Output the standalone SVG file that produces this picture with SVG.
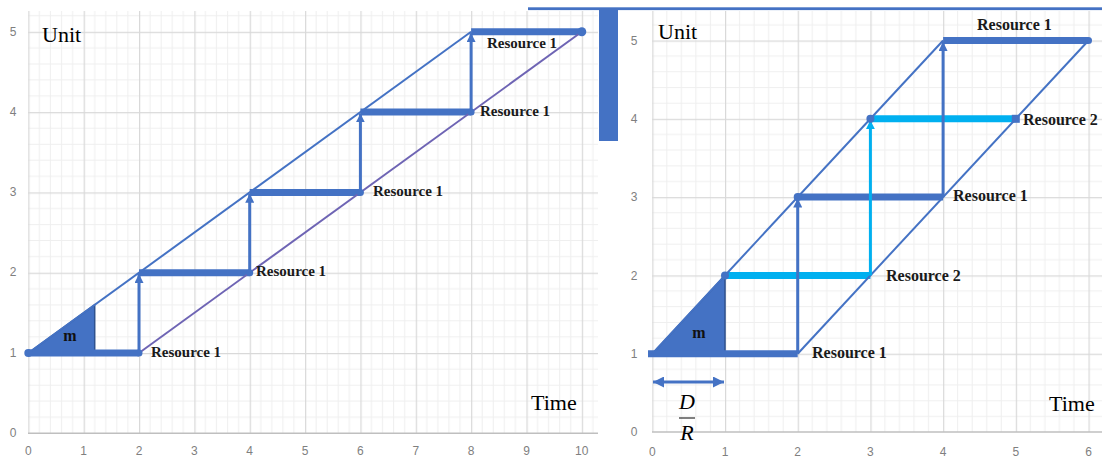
<svg xmlns="http://www.w3.org/2000/svg" width="1102" height="459" viewBox="0 0 1102 459">
<defs>
<style>
.tick{font-family:"Liberation Sans",Arial,sans-serif;font-size:12px;fill:#7f7f7f;text-anchor:middle}
.ax{font-family:"Liberation Serif","Times New Roman",serif;font-size:22px;fill:#000}
.res{font-family:"Liberation Serif","Times New Roman",serif;font-weight:bold;font-size:15px;fill:#1a1a1a}
.resR{font-family:"Liberation Serif","Times New Roman",serif;font-weight:bold;font-size:16px;fill:#1a1a1a}
.bar{stroke:#4472C4;stroke-width:7;fill:none}
.barL{stroke:#00B0F0;stroke-width:7;fill:none}
.diag{stroke:#4472C4;stroke-width:2;fill:none}
.arr{stroke:#4472C4;stroke-width:3;fill:none;marker-end:url(#ah)}
.arrL{stroke:#00B0F0;stroke-width:3;fill:none;marker-end:url(#ahL)}
.dot{fill:#4472C4}
.dotL{fill:#00B0F0}
.tri{fill:#4472C4;stroke:#2F528F;stroke-width:1.5}
.m{font-family:"Liberation Serif","Times New Roman",serif;font-weight:bold;font-size:16px;fill:#111;text-anchor:middle}
</style>
<pattern id="gridL" patternUnits="userSpaceOnUse" x="28.3" y="433.3" width="55.35" height="80.3">
<rect width="55.35" height="80.3" fill="#fff"/>
<g stroke="#efefef" stroke-width="1">
<line x1="11.07" y1="0" x2="11.07" y2="80.3"/><line x1="22.14" y1="0" x2="22.14" y2="80.3"/><line x1="33.21" y1="0" x2="33.21" y2="80.3"/><line x1="44.28" y1="0" x2="44.28" y2="80.3"/>
<line x1="0" y1="16.06" x2="55.35" y2="16.06"/><line x1="0" y1="32.12" x2="55.35" y2="32.12"/><line x1="0" y1="48.18" x2="55.35" y2="48.18"/><line x1="0" y1="64.24" x2="55.35" y2="64.24"/>
</g>
<rect x="0" y="0" width="1.2" height="80.3" fill="#d9d9d9"/>
<rect x="0" y="0" width="55.35" height="1.2" fill="#d9d9d9"/>
</pattern>
<pattern id="gridR" patternUnits="userSpaceOnUse" x="652.3" y="432" width="72.7" height="78.3">
<rect width="72.7" height="78.3" fill="#fff"/>
<g stroke="#efefef" stroke-width="1">
<line x1="14.54" y1="0" x2="14.54" y2="78.3"/><line x1="29.08" y1="0" x2="29.08" y2="78.3"/><line x1="43.62" y1="0" x2="43.62" y2="78.3"/><line x1="58.16" y1="0" x2="58.16" y2="78.3"/>
<line x1="0" y1="15.66" x2="72.7" y2="15.66"/><line x1="0" y1="31.32" x2="72.7" y2="31.32"/><line x1="0" y1="46.98" x2="72.7" y2="46.98"/><line x1="0" y1="62.64" x2="72.7" y2="62.64"/>
</g>
<rect x="0" y="0" width="1.2" height="78.3" fill="#d9d9d9"/>
<rect x="0" y="0" width="72.7" height="1.2" fill="#d9d9d9"/>
</pattern>
<marker id="ah" viewBox="0 0 10 10" refX="10" refY="5" markerWidth="9" markerHeight="9" markerUnits="userSpaceOnUse" orient="auto-start-reverse">
<path d="M0,0 L10,5 L0,10 z" fill="#4472C4"/>
</marker>
<marker id="ahL" viewBox="0 0 10 10" refX="10" refY="5" markerWidth="9" markerHeight="9" markerUnits="userSpaceOnUse" orient="auto">
<path d="M0,0 L10,5 L0,10 z" fill="#00B0F0"/>
</marker>
<marker id="ahD" viewBox="0 0 10 10" refX="10" refY="5" markerWidth="12" markerHeight="11" markerUnits="userSpaceOnUse" orient="auto-start-reverse">
<path d="M0,0 L10,5 L0,10 z" fill="#4472C4"/>
</marker>
</defs>
<rect width="1102" height="459" fill="#fff"/>

<!-- LEFT CHART -->
<g id="left-chart">
<rect x="28" y="11" width="570" height="422.3" fill="url(#gridL)"/>
<line x1="28" y1="433.3" x2="598" y2="433.3" stroke="#bfbfbf" stroke-width="1.5"/>
<g id="left-ticks">
<text class="tick" x="13" y="36">5</text>
<text class="tick" x="13" y="116">4</text>
<text class="tick" x="13" y="196">3</text>
<text class="tick" x="13" y="276">2</text>
<text class="tick" x="13" y="357">1</text>
<text class="tick" x="13" y="437">0</text>
<text class="tick" x="28.3" y="455">0</text>
<text class="tick" x="83.7" y="455">1</text>
<text class="tick" x="139" y="455">2</text>
<text class="tick" x="194.4" y="455">3</text>
<text class="tick" x="249.7" y="455">4</text>
<text class="tick" x="305" y="455">5</text>
<text class="tick" x="360.4" y="455">6</text>
<text class="tick" x="415.8" y="455">7</text>
<text class="tick" x="471.1" y="455">8</text>
<text class="tick" x="526.5" y="455">9</text>
<text class="tick" x="581.8" y="455">10</text>
</g>
<text class="ax" x="42" y="42">Unit</text>
<text class="ax" x="531" y="410">Time</text>
<g id="left-series">
<polygon id="left-m" class="tri" points="28.3,353 94.7,353 94.7,304.8"/>
<line class="bar" x1="28.3" y1="353" x2="139" y2="353"/>
<line class="bar" x1="139" y1="272.7" x2="249.7" y2="272.7"/>
<line class="bar" x1="249.7" y1="192.4" x2="360.4" y2="192.4"/>
<line class="bar" x1="360.4" y1="112.1" x2="471.1" y2="112.1"/>
<line class="bar" x1="471.1" y1="31.8" x2="581.8" y2="31.8"/>
<line class="diag" x1="28.3" y1="353" x2="471.1" y2="31.8"/>
<line x1="139" y1="353" x2="581.8" y2="31.8" stroke="#6E64B4" stroke-width="2"/>
<line class="arr" x1="139" y1="353" x2="139" y2="274"/>
<line class="arr" x1="249.7" y1="272.7" x2="249.7" y2="193.7"/>
<line class="arr" x1="360.4" y1="192.4" x2="360.4" y2="113.4"/>
<line class="arr" x1="471.1" y1="112.1" x2="471.1" y2="33.1"/>
<circle class="dot" cx="28.3" cy="353" r="4"/>
<circle class="dot" cx="139" cy="353" r="3.5"/>
<circle class="dot" cx="249.7" cy="272.7" r="3.5"/>
<circle class="dot" cx="360.4" cy="192.4" r="3.5"/>
<circle class="dot" cx="471.1" cy="112.1" r="3.5"/>
<circle class="dot" cx="581.8" cy="31.8" r="4.5"/>
</g>
<text class="m" x="70" y="341">m</text>
<g id="left-labels">
<text class="res" x="151" y="357">Resource 1</text>
<text class="res" x="256" y="276">Resource 1</text>
<text class="res" x="373" y="196">Resource 1</text>
<text class="res" x="480" y="116">Resource 1</text>
<text class="res" x="487" y="48">Resource 1</text>
</g>
</g>

<!-- divider shapes -->
<rect x="528" y="7.3" width="574" height="2.8" fill="#4472C4"/>
<rect x="599" y="8" width="19" height="133" fill="#4472C4"/>

<!-- RIGHT CHART -->
<g id="right-chart">
<rect x="652" y="11" width="450" height="421" fill="url(#gridR)"/>
<line x1="652" y1="432" x2="1102" y2="432" stroke="#bfbfbf" stroke-width="1.5"/>
<g id="right-ticks">
<text class="tick" x="634" y="45">5</text>
<text class="tick" x="634" y="123">4</text>
<text class="tick" x="634" y="201">3</text>
<text class="tick" x="634" y="280">2</text>
<text class="tick" x="634" y="358">1</text>
<text class="tick" x="634" y="436">0</text>
<text class="tick" x="652.3" y="456">0</text>
<text class="tick" x="725" y="456">1</text>
<text class="tick" x="797.7" y="456">2</text>
<text class="tick" x="870.4" y="456">3</text>
<text class="tick" x="943.1" y="456">4</text>
<text class="tick" x="1015.8" y="456">5</text>
<text class="tick" x="1088.5" y="456">6</text>
</g>
<text class="ax" x="658" y="39">Unit</text>
<text class="ax" x="1049" y="411">Time</text>
<g id="right-series">
<polygon id="right-m" class="tri" points="652.3,353.7 725,353.7 725,275.4"/>
<line class="bar" x1="648" y1="353.7" x2="797.7" y2="353.7"/>
<line class="bar" x1="797.7" y1="197.1" x2="943.1" y2="197.1"/>
<line class="bar" x1="943.1" y1="40.5" x2="1088.5" y2="40.5"/>
<line class="barL" x1="725" y1="275.4" x2="870.4" y2="275.4"/>
<line class="barL" x1="870.4" y1="118.8" x2="1015.8" y2="118.8"/>
<line class="diag" x1="652.3" y1="353.7" x2="943.1" y2="40.5"/>
<line class="diag" x1="797.7" y1="353.7" x2="1088.5" y2="40.5"/>
<line class="arr" x1="797.7" y1="353.7" x2="797.7" y2="198.5"/>
<line class="arr" x1="943.1" y1="197.1" x2="943.1" y2="41.9"/>
<line class="arrL" x1="870.4" y1="275.4" x2="870.4" y2="120.2"/>
<circle class="dot" cx="725" cy="275.4" r="4"/>
<circle class="dot" cx="797.7" cy="197.1" r="4"/>
<circle class="dot" cx="870.4" cy="118.8" r="4"/>
<rect class="dot" x="1011.8" y="114.8" width="8" height="8"/>
<circle class="dot" cx="1088.5" cy="40.5" r="3.5"/>
</g>
<text class="m" x="699" y="338">m</text>
<g id="right-labels">
<text class="resR" x="812" y="358">Resource 1</text>
<text class="resR" x="886" y="281">Resource 2</text>
<text class="resR" x="953" y="201">Resource 1</text>
<text class="resR" x="1023" y="125">Resource 2</text>
<text class="resR" x="977" y="30">Resource 1</text>
</g>
<g id="dr">
<line x1="653" y1="382" x2="724" y2="382" stroke="#4472C4" stroke-width="3" marker-start="url(#ahD)" marker-end="url(#ahD)"/>
<text x="687" y="409" font-family="Liberation Serif, Times New Roman, serif" font-style="italic" font-size="22" text-anchor="middle">D</text>
<line x1="679" y1="418" x2="695" y2="418" stroke="#000" stroke-width="1"/>
<text x="687" y="440" font-family="Liberation Serif, Times New Roman, serif" font-style="italic" font-size="22" text-anchor="middle">R</text>
</g>
</g>
</svg>
